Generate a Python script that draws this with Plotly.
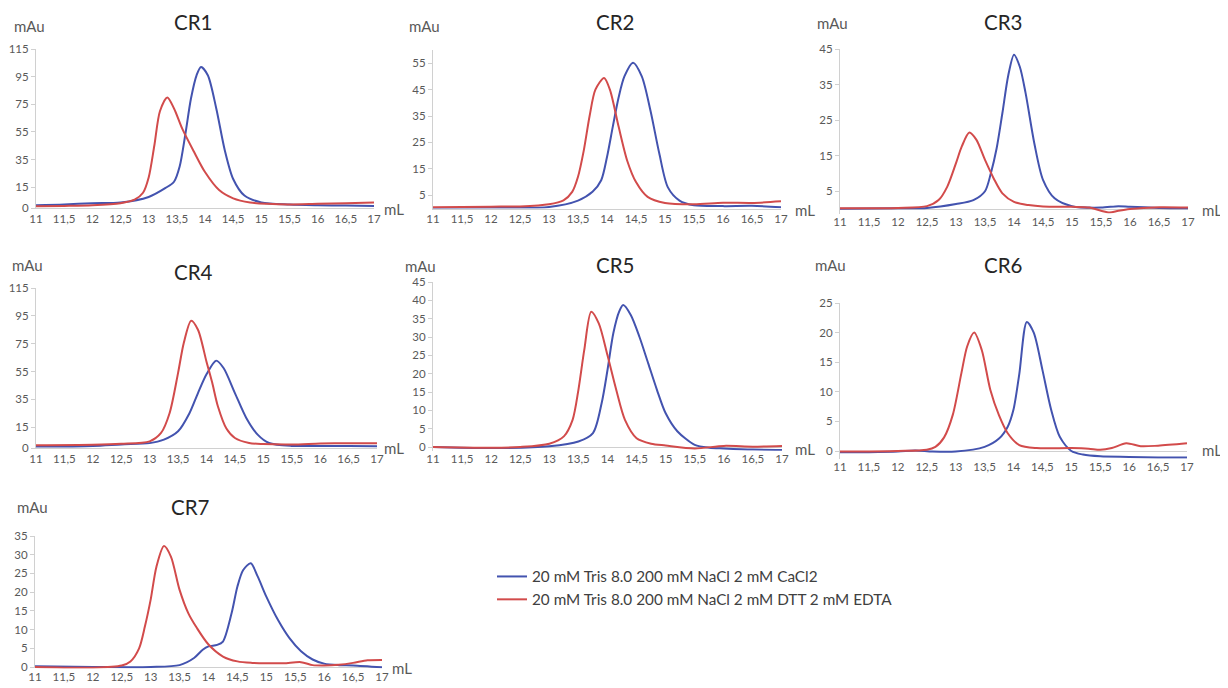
import plotly.graph_objects as go

W, H = 1228, 688
BODY = 8  # default page margin around the plot div

X_TICKS = [11, 11.5, 12, 12.5, 13, 13.5, 14, 14.5, 15, 15.5, 16, 16.5, 17]
X_TICK_TEXT = ["11", "11,5", "12", "12,5", "13", "13,5", "14", "14,5",
               "15", "15,5", "16", "16,5", "17"]

LABEL_CA = "20 mM Tris 8.0 200 mM NaCl 2 mM CaCl2"
LABEL_EDTA = "20 mM Tris 8.0 200 mM NaCl 2 mM DTT 2 mM EDTA"

# --- elution profiles (mL, mAu) ---
CR1_BLUE_X = [11, 11.5, 12, 12.5, 13, 13.3, 13.45, 13.55, 13.65, 13.75, 13.85, 13.93,
              14.05, 14.2, 14.35, 14.5, 14.7, 15, 15.5, 16, 16.5, 17]
CR1_BLUE_Y = [2, 2.5, 3.5, 4, 8, 14.5, 19, 30, 53, 79, 96, 102,
              96, 72, 42, 21, 9, 4, 2.5, 2, 1.8, 1.5]
CR1_RED_X = [11, 11.5, 12, 12.5, 12.75, 12.9, 13.0, 13.1, 13.2, 13.33, 13.45, 13.6,
             13.8, 14.0, 14.25, 14.5, 14.8, 15.1, 15.5, 16, 16.5, 17]
CR1_RED_Y = [1.2, 1.5, 2, 3.5, 6, 11, 22, 45, 70, 80, 72, 57,
             41, 26, 13, 7, 4, 3, 2.5, 3, 3.5, 4]

CR2_BLUE_X = [11, 12, 13, 13.5, 13.75, 13.9, 14.0, 14.1, 14.2, 14.3, 14.45, 14.6,
              14.75, 14.9, 15.05, 15.25, 15.5, 16, 16.5, 17]
CR2_BLUE_Y = [0.2, 0.3, 0.6, 3, 6.3, 10.7, 19.5, 31, 42, 50, 55.2, 50,
              37, 21, 8, 3, 1.2, 0.9, 1.0, 0.5]
CR2_RED_X = [11, 12, 12.5, 13, 13.25, 13.4, 13.5, 13.6, 13.7, 13.8, 13.95, 14.05,
             14.2, 14.35, 14.5, 14.7, 15, 15.5, 16, 16.5, 17]
CR2_RED_Y = [0.5, 0.7, 0.8, 1.6, 3.1, 6.3, 12, 22, 35, 45, 49.4, 45,
             31, 18, 10, 4.4, 2.1, 1.6, 2.2, 2.1, 2.7]

CR3_BLUE_X = [11, 12, 12.5, 13, 13.3, 13.5, 13.6, 13.7, 13.8, 13.9, 14.0, 14.1,
              14.2, 14.35, 14.5, 14.7, 15, 15.5, 15.8, 16, 16.5, 17]
CR3_BLUE_Y = [0.1, 0.2, 0.3, 1.4, 2.5, 5, 10, 17, 27, 37.5, 43.4, 40,
              32.6, 18.5, 8.2, 3, 0.8, 0.4, 0.8, 0.6, 0.3, 0.2]
CR3_RED_X = [11, 12, 12.5, 12.7, 12.85, 13.0, 13.1, 13.23, 13.35, 13.5, 13.65, 13.8,
             14.0, 14.25, 14.5, 15, 15.3, 15.5, 15.65, 15.8, 16, 16.5, 17]
CR3_RED_Y = [0.2, 0.3, 0.8, 2.5, 6.3, 12.9, 17.6, 21.5, 19.5, 13.8, 8.6, 4.4,
             2, 1.1, 0.7, 0.6, 0.4, -0.5, -1.0, -0.5, 0, 0.5, 0.4]

CR4_BLUE_X = [11, 12, 12.5, 13, 13.25, 13.5, 13.7, 13.85, 14.0, 14.17, 14.3, 14.5,
              14.7, 14.9, 15.1, 15.5, 16, 16.5, 17]
CR4_BLUE_Y = [1, 1.5, 2.6, 3.5, 6, 12, 25, 39.5, 53, 62.8, 57.5, 39.5,
              21.6, 9.6, 3.6, 1.5, 1.5, 1.4, 1.2]
CR4_RED_X = [11, 12, 12.5, 13, 13.2, 13.35, 13.5, 13.6, 13.73, 13.85, 14.0, 14.1,
             14.2, 14.35, 14.5, 14.75, 15, 15.5, 16, 16.5, 17]
CR4_RED_Y = [2, 2.3, 3, 4.8, 10.8, 25, 54, 75.5, 91.5, 85, 62, 47,
             30, 14, 7.2, 3.6, 2.8, 2.5, 3.2, 3.5, 3.5]

CR5_BLUE_X = [11, 12, 13, 13.5, 13.75, 13.9, 14.0, 14.1, 14.2, 14.27, 14.4, 14.55,
              14.7, 14.85, 15.0, 15.2, 15.5, 15.75, 16, 16.5, 17]
CR5_BLUE_Y = [0, -0.3, 0.2, 1.5, 3.8, 12, 21, 31, 36.9, 38.7, 36, 30,
              22.8, 15.6, 9.2, 4.3, 0.6, -0.2, -0.4, -0.7, -0.8]
CR5_RED_X = [11, 12, 12.5, 13, 13.25, 13.4, 13.5, 13.6, 13.72, 13.85, 14.0, 14.15,
             14.3, 14.5, 14.75, 15, 15.5, 16, 16.5, 17]
CR5_RED_Y = [0, -0.2, 0, 0.9, 2.9, 7.4, 15.6, 26.4, 36.9, 33.7, 25, 15.6,
             7.4, 2.4, 0.9, 0.4, -0.4, 0.3, 0.1, 0.3]

CR6_BLUE_X = [11, 11.5, 12, 12.3, 12.6, 13, 13.5, 13.75, 13.9, 14.0, 14.1, 14.23,
              14.35, 14.5, 14.65, 14.8, 15.0, 15.2, 15.5, 16, 16.5, 17]
CR6_BLUE_Y = [-0.2, -0.2, -0.1, 0.1, -0.1, -0.1, 0.7, 2.1, 4.1, 7, 13, 21.8,
              20, 13.7, 7, 2.4, 0, -0.6, -0.9, -1.0, -1.1, -1.1]
CR6_RED_X = [11, 12, 12.5, 12.65, 12.8, 12.95, 13.1, 13.2, 13.32, 13.45, 13.6, 13.75,
             13.9, 14.1, 14.4, 15, 15.3, 15.5, 15.7, 15.95, 16.2, 16.5, 17]
CR6_RED_Y = [-0.1, 0, 0.2, 0.7, 2.3, 6.1, 13.2, 17.7, 20, 17.1, 10.3, 6,
             3, 1.0, 0.5, 0.5, 0.4, 0.2, 0.5, 1.3, 0.8, 0.9, 1.3]

CR7_BLUE_X = [11, 12, 13, 13.5, 13.75, 13.9, 14.0, 14.15, 14.25, 14.4, 14.5, 14.6,
              14.73, 14.85, 15.0, 15.2, 15.4, 15.6, 15.8, 16.0, 16.25, 16.5, 17]
CR7_BLUE_Y = [0.2, 0, 0, 0.5, 2.4, 4.6, 5.5, 5.9, 6.8, 14.4, 21.5, 25.9,
              27.7, 24.2, 18.8, 12.6, 7.7, 4.2, 2, 0.9, 0.5, 0.4, -0.1]
CR7_RED_X = [11, 12, 12.5, 12.65, 12.8, 12.9, 13.0, 13.1, 13.23, 13.35, 13.5, 13.65,
             13.8, 14.0, 14.25, 14.5, 14.75, 15.0, 15.3, 15.6, 15.8, 16, 16.25, 16.5,
             16.75, 17]
CR7_RED_Y = [0, -0.2, 0.4, 1.5, 5, 10.8, 18, 26.8, 32.3, 29.5, 20.6, 14.4,
             10.4, 6, 2.8, 1.5, 1.1, 1.0, 1.0, 1.3, 0.5, 0.4, 0.6, 1.1,
             1.8, 1.9]

CR1_YTICKS = [0, 15, 35, 55, 75, 95, 115]
CR2_YTICKS = [5, 15, 25, 35, 45, 55]
CR3_YTICKS = [5, 15, 25, 35, 45]
CR4_YTICKS = [0, 15, 35, 55, 75, 95, 115]
CR5_YTICKS = [0, 5, 10, 15, 20, 25, 30, 35, 40, 45]
CR6_YTICKS = [0, 5, 10, 15, 20, 25]
CR7_YTICKS = [0, 5, 10, 15, 20, 25, 30, 35]

BLUE = "#4353AF"
RED = "#D24B4B"
GREY = "#595959"
AXIS = "#D0D0D0"
FONT = "Lato"

# panel geometry in page pixels: x0, x1, top of y range, y of zero, y range
panels = [
    ("CR1", CR1_BLUE_X, CR1_BLUE_Y, CR1_RED_X, CR1_RED_Y, CR1_YTICKS,
     dict(x=(36, 374), top=49, zero=208, rng=(0, 115), title=(193, 22), mau=(12, 26), ml=(382, 209))),
    ("CR2", CR2_BLUE_X, CR2_BLUE_Y, CR2_RED_X, CR2_RED_Y, CR2_YTICKS,
     dict(x=(433, 781), top=50, zero=208.5, rng=(0, 60), title=(615, 22), mau=(407, 26), ml=(793, 210))),
    ("CR3", CR3_BLUE_X, CR3_BLUE_Y, CR3_RED_X, CR3_RED_Y, CR3_YTICKS,
     dict(x=(840, 1188), top=49, zero=209, rng=(-1.3, 45), title=(1003, 22), mau=(815, 23), ml=(1200, 210))),
    ("CR4", CR4_BLUE_X, CR4_BLUE_Y, CR4_RED_X, CR4_RED_Y, CR4_YTICKS,
     dict(x=(36, 377), top=288, zero=448, rng=(0, 115), title=(193, 272), mau=(10, 265), ml=(382, 448))),
    ("CR5", CR5_BLUE_X, CR5_BLUE_Y, CR5_RED_X, CR5_RED_Y, CR5_YTICKS,
     dict(x=(433, 782), top=282, zero=447, rng=(-1.0, 45), title=(615, 265), mau=(403, 266), ml=(793, 449))),
    ("CR6", CR6_BLUE_X, CR6_BLUE_Y, CR6_RED_X, CR6_RED_Y, CR6_YTICKS,
     dict(x=(840, 1187), top=303, zero=451, rng=(-1.3, 25), title=(1003, 265), mau=(813, 265), ml=(1200, 450))),
    ("CR7", CR7_BLUE_X, CR7_BLUE_Y, CR7_RED_X, CR7_RED_Y, CR7_YTICKS,
     dict(x=(35, 382), top=536, zero=667, rng=(-0.4, 35), title=(190, 507), mau=(15, 507), ml=(390, 668))),
]


def px(x):
    return (x - BODY) / W


def py(y):
    return 1 - (y - BODY) / H


fig = go.Figure()
annotations = []
layout_axes = {}

for i, (name, bx, by, rx, ry, yticks, g) in enumerate(panels, start=1):
    suffix = "" if i == 1 else str(i)
    lo, hi = g["rng"]
    bottom = g["zero"] + (-lo) * (g["zero"] - g["top"]) / hi

    for xs, ys, color, label in ((bx, by, BLUE, LABEL_CA), (rx, ry, RED, LABEL_EDTA)):
        fig.add_trace(go.Scatter(
            x=xs, y=ys, mode="lines", name=label, legendgroup=label,
            showlegend=(i == 1),
            line=dict(color=color, width=2, shape="spline", smoothing=0.8),
            xaxis="x" + suffix, yaxis="y" + suffix,
        ))

    layout_axes["xaxis" + suffix] = dict(
        domain=[px(g["x"][0]), px(g["x"][1])], anchor="y" + suffix,
        range=[11, 17], tickvals=X_TICKS, ticktext=X_TICK_TEXT, automargin=False,
        showgrid=False, zeroline=False, showline=(lo == 0), linecolor=AXIS,
        tickfont=dict(family=FONT, size=11.5, color=GREY), ticks="",
    )
    layout_axes["yaxis" + suffix] = dict(
        domain=[py(bottom), py(g["top"])], anchor="x" + suffix,
        range=[lo, hi], tickvals=yticks, automargin=False,
        showgrid=False, showline=True, linecolor=AXIS,
        zeroline=(lo < 0), zerolinecolor=AXIS, zerolinewidth=1,
        ticks="outside", ticklen=4, tickcolor=AXIS,
        tickfont=dict(family=FONT, size=11.5, color=GREY),
    )

    annotations.append(dict(
        text=name, x=px(g["title"][0]), y=py(g["title"][1]), xref="paper", yref="paper",
        xanchor="center", yanchor="middle", showarrow=False,
        font=dict(family=FONT, size=20.5, color="#262626"),
    ))
    annotations.append(dict(
        text="mAu", x=px(g["mau"][0]), y=py(g["mau"][1]), xref="paper", yref="paper",
        xanchor="left", yanchor="middle", showarrow=False,
        font=dict(family=FONT, size=15, color=GREY),
    ))
    annotations.append(dict(
        text="mL", x=px(g["ml"][0]), y=py(g["ml"][1]), xref="paper", yref="paper",
        xanchor="left", yanchor="middle", showarrow=False,
        font=dict(family=FONT, size=15, color=GREY),
    ))

fig.update_layout(
    width=W, height=H,
    margin=dict(l=0, r=0, t=0, b=0, autoexpand=False),
    paper_bgcolor="white", plot_bgcolor="white",
    annotations=annotations,
    showlegend=True,
    legend=dict(
        x=px(492), y=py(560), xanchor="left", yanchor="top",
        font=dict(family=FONT, size=15.3, color="#404040"),
        bgcolor="rgba(0,0,0,0)", tracegroupgap=0,
    ),
    **layout_axes,
)

fig.write_html("out.html")
